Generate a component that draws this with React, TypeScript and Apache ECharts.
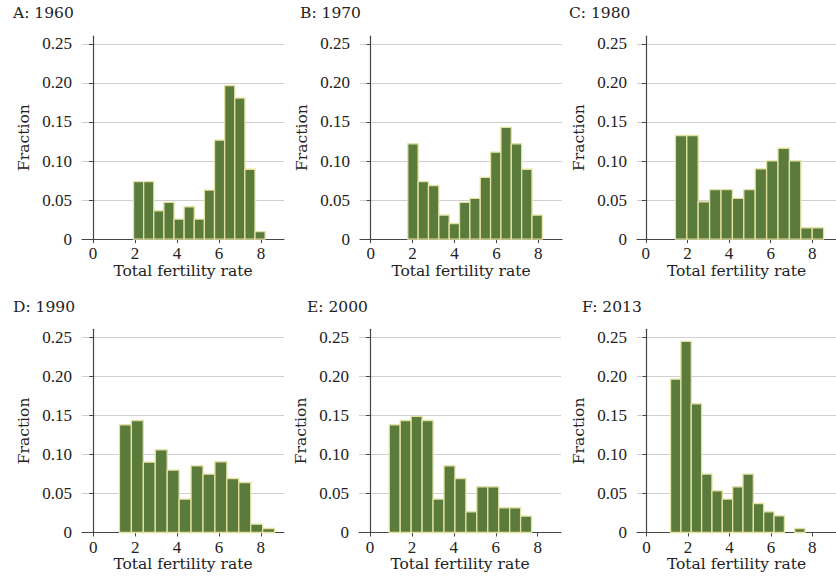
import React, { useEffect, useRef } from "react";
import * as echarts from "echarts";

// Panel titles
const panelTitles = ["A: 1960", "B: 1970", "C: 1980", "D: 1990", "E: 2000", "F: 2013"];

// Histogram bins: first bin edge and bin width per panel
const binStarts = [1.93, 1.77, 1.42, 1.25, 0.92, 1.16];
const binWidths = [0.482, 0.494, 0.548, 0.57, 0.522, 0.499];

// Fractions per bin
const fracA = [0.0736, 0.0736, 0.0364, 0.0471, 0.0257, 0.0415, 0.0257, 0.0629, 0.1267, 0.1965, 0.1807, 0.0895, 0.0098];
const fracB = [0.122, 0.0736, 0.0685, 0.0308, 0.0201, 0.0471, 0.0522, 0.0792, 0.1113, 0.143, 0.122, 0.0895, 0.0308];
const fracC = [0.1327, 0.1327, 0.0479, 0.0634, 0.0634, 0.0522, 0.0634, 0.0899, 0.1002, 0.1164, 0.1002, 0.0146, 0.0146];
const fracD = [0.1378, 0.1433, 0.09, 0.1058, 0.0798, 0.0427, 0.0853, 0.0747, 0.0904, 0.0691, 0.064, 0.0107, 0.0051];
const fracE = [0.1378, 0.1433, 0.1485, 0.1433, 0.0427, 0.0853, 0.0691, 0.0265, 0.0584, 0.0584, 0.0316, 0.0316, 0.0209];
const fracF = [0.1962, 0.2445, 0.1647, 0.0747, 0.0533, 0.0427, 0.0584, 0.0747, 0.0371, 0.0265, 0.0213, 0, 0.0051];
const fractions = [fracA, fracB, fracC, fracD, fracE, fracF];

// Tick labels
const xTicks = [0, 2, 4, 6, 8];
const yTicks = [0, 0.05, 0.1, 0.15, 0.2, 0.25];

const xAxisName = "Total fertility rate";
const yAxisName = "Fraction";

// Layout (pixels) per panel
const gridLeft = [82, 360, 637, 82, 359, 637];
const gridTop = [36, 36, 36, 329.3, 329.3, 329.3];
const gridWidth = 202;
const gridHeight = 203.2;
const xMins = [-0.524, -0.51, -0.426, -0.54, -0.523, -0.46];
const xMaxs = [9.095, 9.13, 9.14, 9.11, 9.11, 9.14];
const yMax = 0.26;
const titlePos = [
  [13, 5],
  [300, 5],
  [569, 5],
  [13, 299],
  [307, 299],
  [582, 299],
];

const BAR_FILL = "#5a7b3b";
const BAR_EDGE = "#e4e2a2";
const TEXT_FONT = "'DejaVu Serif', serif";
const NUM_FONT = "'Liberation Serif', 'Times New Roman', serif";

export default function App() {
  const ref = useRef<HTMLDivElement>(null);
  useEffect(() => {
    if (!ref.current) return;
    const chart = echarts.init(ref.current, undefined, { renderer: "svg" });

    const grids: any[] = [];
    const xAxes: any[] = [];
    const yAxes: any[] = [];
    const series: any[] = [];
    const titles: any[] = [];

    fractions.forEach((vals, i) => {
      grids.push({
        left: gridLeft[i],
        top: gridTop[i],
        width: gridWidth,
        height: gridHeight,
        containLabel: false,
      });
      xAxes.push({
        type: "value",
        gridIndex: i,
        min: xMins[i],
        max: xMaxs[i],
        name: xAxisName,
        nameLocation: "middle",
        nameGap: 23,
        nameTextStyle: { fontFamily: TEXT_FONT, fontSize: 15.5, color: "#222" },
        axisLine: { show: true, onZero: false, lineStyle: { color: "#444", width: 1.2 } },
        axisTick: { show: true, length: 4, customValues: xTicks, lineStyle: { color: "#444" } },
        axisLabel: {
          customValues: xTicks,
          margin: 6,
          fontFamily: NUM_FONT,
          fontSize: 17,
          color: "#222",
        },
        splitLine: { show: false },
      });
      yAxes.push({
        type: "value",
        gridIndex: i,
        min: 0,
        max: yMax,
        name: yAxisName,
        nameLocation: "middle",
        nameGap: 50,
        nameRotate: 90,
        nameTextStyle: { fontFamily: TEXT_FONT, fontSize: 15.5, color: "#222" },
        axisLine: { show: true, lineStyle: { color: "#444", width: 1.2 } },
        axisTick: { show: true, length: 4, customValues: yTicks, lineStyle: { color: "#444" } },
        axisLabel: {
          customValues: yTicks,
          margin: 10,
          fontFamily: NUM_FONT,
          fontSize: 17,
          color: "#222",
          formatter: (v: number) => (v === 0 ? "0" : v.toFixed(2)),
        },
        splitLine: { show: true, lineStyle: { color: "#cfcfcf", width: 1 } },
      });
      const data = vals
        .map((v, k) => [binStarts[i] + k * binWidths[i], binStarts[i] + (k + 1) * binWidths[i], v])
        .filter((d) => d[2] > 0);
      series.push({
        type: "custom",
        xAxisIndex: i,
        yAxisIndex: i,
        data,
        encode: { x: [0, 1], y: 2 },
        renderItem: (params: any, api: any) => {
          const p0 = api.coord([api.value(0), api.value(2)]);
          const p1 = api.coord([api.value(1), 0]);
          return {
            type: "rect",
            shape: { x: p0[0], y: p0[1], width: p1[0] - p0[0], height: p1[1] - p0[1] },
            style: { fill: BAR_FILL, stroke: BAR_EDGE, lineWidth: 1.3 },
          };
        },
      });
      titles.push({
        text: panelTitles[i],
        left: titlePos[i][0],
        top: titlePos[i][1],
        padding: 0,
        textStyle: { fontFamily: TEXT_FONT, fontSize: 15.5, fontWeight: "normal", color: "#222" },
      });
    });

    chart.setOption({
      animation: false,
      backgroundColor: "#ffffff",
      title: titles,
      grid: grids,
      xAxis: xAxes,
      yAxis: yAxes,
      series,
    });
    return () => chart.dispose();
  }, []);

  return (
    <div
      ref={ref}
      style={{ position: "absolute", left: 0, top: 0, width: 836, height: 580 }}
    />
  );
}
